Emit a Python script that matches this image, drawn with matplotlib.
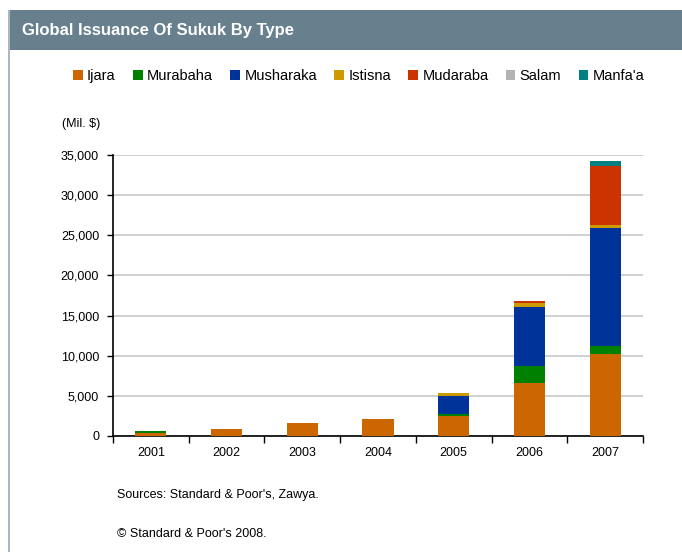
import numpy as np
import matplotlib.pyplot as plt
from matplotlib.patches import Rectangle
from matplotlib.ticker import FuncFormatter, FixedLocator

# data (Mil. $)
years = ["2001", "2002", "2003", "2004", "2005", "2006", "2007"]
types = ["Ijara", "Murabaha", "Musharaka", "Istisna", "Mudaraba", "Salam", "Manfa'a"]
ijara = [330, 830, 1660, 2150, 2450, 6580, 10170]
murabaha = [340, 0, 0, 0, 330, 2100, 1000]
musharaka = [0, 0, 0, 0, 2150, 7400, 14760]
istisna = [0, 0, 0, 0, 450, 500, 340]
mudaraba = [0, 0, 0, 0, 0, 280, 7400]
salam = [0, 0, 0, 0, 0, 0, 0]
manfaa = [0, 0, 0, 0, 0, 0, 620]
colors = ["#CC6600", "#008000", "#003399", "#CC9900", "#CC3300", "#B3B3B3", "#008080"]

series = [ijara, murabaha, musharaka, istisna, mudaraba, salam, manfaa]

plt.rcParams['font.family'] = ['Liberation Sans', 'DejaVu Sans']

fig = plt.figure(figsize=(6.82, 5.52), dpi=100)

# header band and left border
fig.patches.append(Rectangle((8 / 682, 1 - 50 / 552), 1, 40 / 552, transform=fig.transFigure,
                             facecolor="#687F8E", edgecolor="none", zorder=0))
fig.patches.append(Rectangle((8 / 682, 0), 1.5 / 682, 1 - 10 / 552, transform=fig.transFigure,
                             facecolor="#AAB8C2", edgecolor="none", zorder=0))
fig.text(22 / 682, 1 - 31 / 552, "Global Issuance Of Sukuk By Type", color="white",
         fontsize=12, fontweight="bold", va="center", ha="left")

ax = fig.add_axes([113 / 682, 1 - 436 / 552, 530 / 682, 281 / 552])
x = np.arange(len(years))
bottom = np.zeros(len(years))
handles = []
for name, vals, c in zip(types, series, colors):
    b = ax.bar(x, vals, width=0.41, bottom=bottom, color=c, label=name, zorder=3)
    handles.append(b)
    bottom += np.array(vals)

ax.set_xlim(-0.5, len(years) - 0.5)
ax.set_ylim(0, 35000)
ax.set_yticks(np.arange(0, 35001, 5000))
ax.yaxis.set_major_formatter(FuncFormatter(lambda v, p: f"{int(v):,}"))
ax.set_xticks(x)
ax.set_xticklabels(years)
ax.xaxis.set_minor_locator(FixedLocator(np.arange(-0.5, len(years), 1.0)))
ax.tick_params(axis="x", which="major", length=0, pad=8, labelsize=9)
ax.tick_params(axis="x", which="minor", length=5, width=1, direction="out")
ax.tick_params(axis="y", length=4, width=1, labelsize=9, pad=6)
ax.grid(axis="y", color="#C8C8C8", linewidth=1.2, zorder=0)
for s in ["top", "right"]:
    ax.spines[s].set_visible(False)
ax.spines["left"].set_linewidth(1.2)
ax.spines["bottom"].set_linewidth(1.2)

fig.text(62 / 682, 1 - 124 / 552, "(Mil. $)", fontsize=9, va="center", ha="left")

fig.legend(handles=handles, labels=types, loc="center left", ncol=7,
           bbox_to_anchor=(60 / 682, 1 - 76 / 552), frameon=False, fontsize=10.5,
           handlelength=0.65, handleheight=0.65, handletextpad=0.3, columnspacing=1.2)

fig.text(117 / 682, 1 - 495 / 552, "Sources: Standard & Poor's, Zawya.", fontsize=9,
         va="center", ha="left")
fig.text(117 / 682, 1 - 534 / 552, "\u00a9 Standard & Poor's 2008.", fontsize=9,
         va="center", ha="left")

fig.savefig("out.png", dpi=100)
